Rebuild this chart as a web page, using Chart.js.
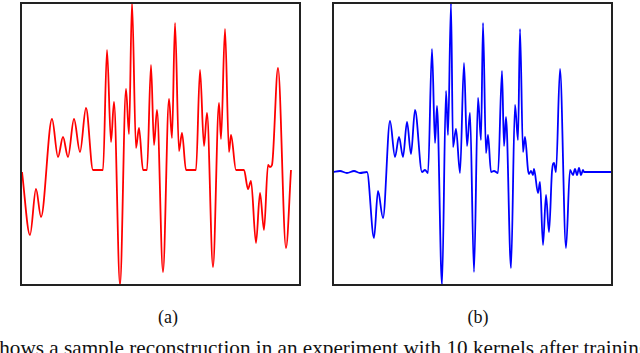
<!DOCTYPE html>
<html>
<head>
<meta charset="utf-8">
<script src="https://cdn.jsdelivr.net/npm/chart.js@4.4.0/dist/chart.umd.min.js"></script>
<style>
  body { margin: 0; width: 640px; height: 353px; overflow: hidden; background: #fff; position: relative; }
  .box { position: absolute; top: 0; width: 287px; height: 289px; }
  .lbl { position: absolute; top: 307px; font-family: "Times New Roman", "Liberation Serif", "DejaVu Serif", serif; font-size: 18px; color: #111; transform: translateX(-50%); }
  #caption { position: absolute; left: -9px; top: 336px; font-family: "Times New Roman", "Liberation Serif", "DejaVu Serif", serif; font-size: 21.2px; color: #111; white-space: nowrap; }
</style>
</head>
<body>
<div class="box" style="left:17px"><canvas id="chartA" width="287" height="289"></canvas></div>
<div class="box" style="left:329px"><canvas id="chartB" width="287" height="289"></canvas></div>
<div class="lbl" style="left:168px">(a)</div>
<div class="lbl" style="left:478px">(b)</div>
<div id="caption">shows a sample reconstruction in an experiment with 10 kernels after training</div>
<script>
// (a) original signal
const xsA = [1, 9, 15, 20, 31, 37, 42, 47, 53, 59, 65, 72, 82, 86, 90, 93, 99, 105, 108, 111,
  115, 118, 122, 126, 130, 133, 136, 142, 148, 151, 154, 158, 161, 165, 175, 179, 183, 186, 192, 198,
  200, 204, 208, 210, 215, 223, 227, 230, 235, 239, 243, 247, 249, 251, 257, 265, 270];
const ysA = [-2, -65, -19, -47, 51, 13, 33, 13, 51, 18, 62, 0, 0, 120, 28, 68, -115, 81, 36, 168,
  22, 42, 0, 0, 105, 25, 60, -102, 71, 32, 147, 19, 37, 0, 0, 100, 24, 57, -97, 67,
  31, 141, 18, 35, 0, 0, -19, -11, -73, -23, -60, 5, 3, 5, 102, -78, 0];

// (b) reconstruction
const xsB = [0, 7, 14, 21, 27, 34, 41, 45, 50, 57, 62, 66, 70, 74, 78, 82, 89, 92, 95, 99,
  102, 104, 109, 113, 115, 118, 120, 123, 127, 131, 134, 137, 141, 145, 148, 150, 153, 155, 158, 161,
  165, 169, 171, 173, 178, 182, 185, 187, 190, 192, 195, 196, 198, 200, 201, 205, 207, 210, 213, 216,
  219, 221, 223, 227, 233, 237, 240, 242, 244, 246, 248, 250, 251, 279];
const ysB = [0, 1, -1, 1, -1, 0, -66, -19, -46, 51, 15, 35, 15, 50, 18, 62, 0, 2, -1, 123,
  29, 66, -113, 81, 37, 169, 25, 43, -1, 109, 26, 59, -100, 74, 32, 149, 19, 37, 0, 1,
  -1, 101, 26, 55, -96, 67, 32, 143, 20, 35, 2, -2, 1, -3, 3, -21, -10, -73, -23, -60,
  1, 9, 0, 103, -76, 2, -3, 3, -3, 4, -3, 2, 0, 0];

const boxPlugin = {
  id: 'box',
  afterDraw(chart) {
    const a = chart.chartArea;
    const ctx = chart.ctx;
    ctx.save();
    ctx.strokeStyle = '#222';
    ctx.lineWidth = 2;
    ctx.strokeRect(a.left, a.top, a.right - a.left, a.bottom - a.top);
    ctx.restore();
  }
};

function makeChart(id, xs, ys, color, ymin, ymax) {
  const pts = xs.map((x, i) => ({ x: x, y: ys[i] }));
  return new Chart(document.getElementById(id).getContext('2d'), {
    type: 'line',
    data: {
      datasets: [{
        data: pts,
        borderColor: color,
        borderWidth: 1.8,
        pointRadius: 0,
        fill: false,
        cubicInterpolationMode: 'monotone'
      }]
    },
    options: {
      responsive: false,
      animation: false,
      layout: { padding: { left: 4, right: 4, top: 3, bottom: 4 } },
      plugins: { legend: { display: false }, tooltip: { enabled: false } },
      scales: {
        x: { type: 'linear', min: 0, max: 279, display: false },
        y: { min: ymin, max: ymax, display: false }
      }
    },
    plugins: [boxPlugin]
  });
}

makeChart('chartA', xsA, ysA, '#ff0000', -115, 167);
makeChart('chartB', xsB, ysB, '#0000ff', -113, 169);
</script>
</body>
</html>
